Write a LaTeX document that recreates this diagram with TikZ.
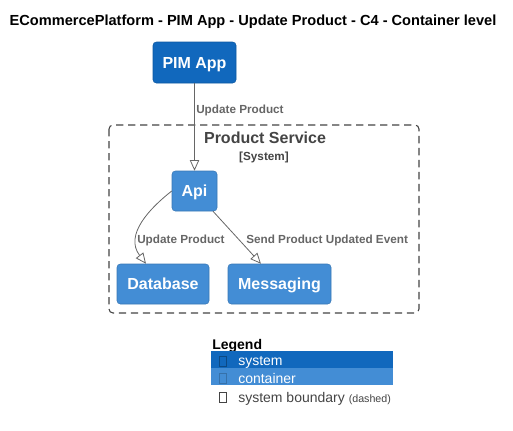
\documentclass[tikz,border=0pt]{standalone}
\usepackage{fontspec}
\setmainfont{Liberation Sans}
\usetikzlibrary{arrows.meta,calc}
\definecolor{sysblue}{HTML}{1168BD}
\definecolor{contblue}{HTML}{438DD5}
\definecolor{lblgray}{HTML}{666666}
\definecolor{bndgray}{HTML}{444444}
\tikzset{
  sysbox/.style={draw=sysblue!85!black, fill=sysblue, rounded corners=2.5, text=white, font=\fontsize{12}{14}\selectfont\bfseries, inner sep=0pt, text depth=0pt, line width=0.4pt},
  contbox/.style={draw=contblue!85!black, fill=contblue, rounded corners=2.5, text=white, font=\fontsize{12}{14}\selectfont\bfseries, inner sep=0pt, text depth=0pt, line width=0.4pt},
  rel/.style={draw=lblgray, line width=0.6pt, -{Triangle[open, length=8pt, width=7pt]}},
  rellabel/.style={text=lblgray, font=\fontsize{8.8}{10}\selectfont\bfseries, anchor=west, inner sep=0pt, text depth=0pt},
  legtext/.style={font=\fontsize{10.5}{12}\selectfont, anchor=west, inner sep=0pt, text depth=0pt},
  tofu/.style={line width=0.5pt, inner sep=0pt}
}
\begin{document}
\begin{tikzpicture}[x=0.75pt, y=-0.75pt]
\useasboundingbox (0,0) rectangle (513,430);
% title
\node[font=\fontsize{10.95}{12}\selectfont\bfseries, inner sep=0pt, text depth=0pt] (title) at (253,20.5) {ECommercePlatform - PIM App - Update Product - C4 - Container level};
% boundary
\draw[bndgray, dash pattern=on 5.5pt off 3.5pt, rounded corners=3, line width=0.8pt] (109,125) rectangle (419,313);
\node[text=bndgray, font=\fontsize{12}{14}\selectfont\bfseries, inner sep=0pt, text depth=0pt] (bt) at (265,138) {Product Service};
\node[text=bndgray, font=\fontsize{8.8}{10}\selectfont\bfseries, inner sep=0pt, text depth=0pt] (bs) at (264,156) {[System]};
% nodes
\node[sysbox, minimum width=62.25pt, minimum height=30.75pt] (pim) at (194.5,62.5) {PIM App};
\node[contbox, minimum width=33.75pt, minimum height=30pt] (api) at (194.5,191) {Api};
\node[contbox, minimum width=69pt, minimum height=30pt] (db) at (163,284) {Database};
\node[contbox, minimum width=77.25pt, minimum height=30pt] (msg) at (279.5,284) {Messaging};
% relations
\draw[rel] (pim) -- (api);
\node[rellabel] (l1) at (196,109) {Update Product};
\draw[rel] (api.west) .. controls (150,208) and (124,235) .. ($(db.north)+(-17,0)$);
\node[rellabel] (l2) at (137,239) {Update Product};
\draw[rel] (api) -- (msg);
\node[rellabel] (l3) at (246,239) {Send Product Updated Event};
% legend
\node[legtext, font=\fontsize{10.5}{12}\selectfont\bfseries] (lg) at (212,344) {Legend};
\fill[sysblue] (211,351) rectangle (393,368);
\fill[contblue] (211,368) rectangle (393,385);
\draw[tofu, draw=sysblue!70!black] (219.5,356.5) rectangle (226.5,366.5);
\draw[tofu, draw=contblue!80!black] (219.5,373.5) rectangle (226.5,383.5);
\draw[tofu, draw=bndgray] (219.5,392) rectangle (226.5,402);
\node[legtext, text=white] (ls) at (238,361) {system};
\node[legtext, text=white] (lc) at (238,378) {container};
\node[legtext, text=bndgray] (lb) at (238,397) {system boundary \fontsize{8}{9}\selectfont (dashed)};
\end{tikzpicture}
\end{document}
